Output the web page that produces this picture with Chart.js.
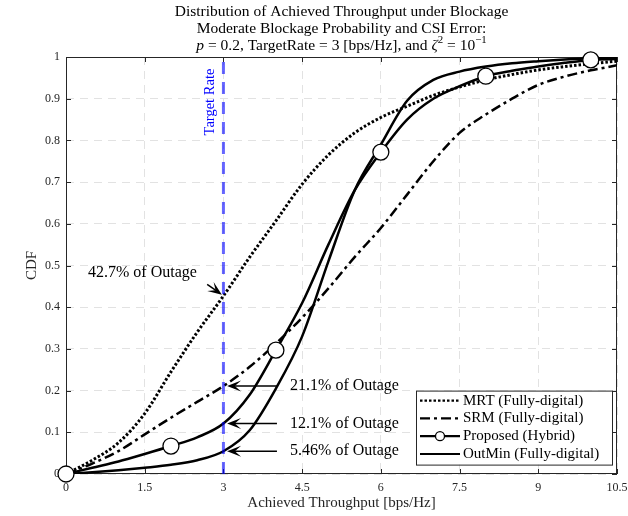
<!DOCTYPE html>
<html>
<head>
<meta charset="utf-8">
<script src="https://cdn.jsdelivr.net/npm/chart.js@4.4.1/dist/chart.umd.min.js"></script>
<style>
  html, body { margin: 0; padding: 0; background: #fff; }
  #wrap { width: 628px; height: 516px; }
</style>
</head>
<body>
<div id="wrap"><canvas id="cdfChart" width="628" height="516"></canvas></div>
<script>
// throughput grid (bps/Hz) and CDF values
const throughput = [0, 0.5, 1, 1.5, 2, 2.5, 3, 3.5, 4, 4.5, 5, 5.5, 6, 6.5, 7, 7.5, 8, 8.5, 9, 9.5, 10, 10.5];
const cdfMRT = [0, 0.033, 0.075, 0.145, 0.245, 0.34, 0.427, 0.52, 0.607, 0.695, 0.765, 0.818, 0.855, 0.882, 0.908, 0.928, 0.945, 0.958, 0.969, 0.977, 0.984, 0.99];
const cdfSRM = [0, 0.025, 0.055, 0.095, 0.135, 0.173, 0.211, 0.257, 0.313, 0.375, 0.445, 0.52, 0.59, 0.67, 0.75, 0.818, 0.862, 0.9, 0.933, 0.953, 0.968, 0.98];
const cdfProposed = [0, 0.015, 0.03, 0.048, 0.067, 0.088, 0.121, 0.19, 0.297, 0.41, 0.55, 0.68, 0.772, 0.85, 0.9, 0.93, 0.954, 0.967, 0.977, 0.986, 0.993, 0.995];
const cdfOutMin = [0, 0.004, 0.009, 0.015, 0.022, 0.033, 0.0546, 0.105, 0.205, 0.33, 0.51, 0.68, 0.79, 0.895, 0.945, 0.965, 0.977, 0.985, 0.99, 0.994, 0.997, 0.998];
const markerAt = [0, 2, 4, 6, 8, 10];
const targetRate = 3;
const xTicks = [0, 1.5, 3, 4.5, 6, 7.5, 9, 10.5];
const yTicks = [0, 0.1, 0.2, 0.3, 0.4, 0.5, 0.6, 0.7, 0.8, 0.9, 1];
const seriesNames = ["MRT (Fully-digital)", "SRM (Fully-digital)", "Proposed (Hybrid)", "OutMin (Fully-digital)"];
const outageMRT = 0.427, outageSRM = 0.211, outageProposed = 0.121, outageOutMin = 0.0546;

const SERIF = "'Liberation Serif', 'DejaVu Serif', serif";
const pts = (ys) => throughput.map((x, i) => ({ x: x, y: ys[i] }));

function drawRuns(ctx, runs, cx, y, size) {
  const fontOf = (r) => (r.it ? "italic " : "") + (r.sup ? size * 0.7 : size) + "px " + SERIF;
  let total = 0;
  runs.forEach((r) => { ctx.font = fontOf(r); total += ctx.measureText(r.t).width; });
  let x = cx - total / 2;
  ctx.textAlign = "left";
  ctx.textBaseline = "middle";
  runs.forEach((r) => {
    ctx.font = fontOf(r);
    ctx.fillText(r.t, x, r.sup ? y - size * 0.35 : y);
    x += ctx.measureText(r.t).width;
  });
}

function drawArrow(ctx, x1, y1, x2, y2) {
  const a = Math.atan2(y2 - y1, x2 - x1);
  const len = 14, half = 5.5;
  ctx.beginPath();
  ctx.moveTo(x1, y1);
  ctx.lineTo(x2 - Math.cos(a) * 6, y2 - Math.sin(a) * 6);
  ctx.stroke();
  const bx = x2 - Math.cos(a) * len, by = y2 - Math.sin(a) * len;
  const nx = x2 - Math.cos(a) * len * 0.55, ny = y2 - Math.sin(a) * len * 0.55;
  ctx.beginPath();
  ctx.moveTo(x2, y2);
  ctx.lineTo(bx + Math.sin(a) * half, by - Math.cos(a) * half);
  ctx.lineTo(nx, ny);
  ctx.lineTo(bx - Math.sin(a) * half, by + Math.cos(a) * half);
  ctx.closePath();
  ctx.fill();
}

const matlabLook = {
  id: "matlabLook",
  beforeDatasetsDraw(chart) {
    const { ctx, chartArea: ca, scales } = chart;
    ctx.save();
    ctx.strokeStyle = "#262626";
    ctx.lineWidth = 1;
    ctx.strokeRect(ca.left + 0.5, ca.top + 0.5, ca.right - ca.left - 1, ca.bottom - ca.top - 1);
    ctx.beginPath();
    xTicks.forEach((v) => {
      const px = Math.round(scales.x.getPixelForValue(v)) + 0.5;
      ctx.moveTo(px, ca.bottom); ctx.lineTo(px, ca.bottom - 5);
      ctx.moveTo(px, ca.top); ctx.lineTo(px, ca.top + 5);
    });
    yTicks.forEach((v) => {
      const py = Math.round(scales.y.getPixelForValue(v)) + 0.5;
      ctx.moveTo(ca.left, py); ctx.lineTo(ca.left + 5, py);
      ctx.moveTo(ca.right, py); ctx.lineTo(ca.right - 5, py);
    });
    ctx.stroke();
    ctx.restore();
  },
  afterDraw(chart) {
    const { ctx, chartArea: ca, scales } = chart;
    const X = (v) => scales.x.getPixelForValue(v);
    const Y = (v) => scales.y.getPixelForValue(v);
    const cx = (ca.left + ca.right) / 2;
    ctx.save();
    ctx.fillStyle = "#000";
    ctx.textAlign = "center";
    ctx.textBaseline = "middle";
    ctx.font = "15.5px " + SERIF;
    ctx.fillText("Distribution of Achieved Throughput under Blockage", cx, 12);
    ctx.fillText("Moderate Blockage Probability and CSI Error:", cx, 29);
    drawRuns(ctx, [
      { t: "p", it: 1 }, { t: " = 0.2, TargetRate = 3 [bps/Hz], and " },
      { t: "ζ", it: 1 }, { t: "2", sup: 1 }, { t: " = 10" }, { t: "−1", sup: 1 }
    ], cx, 46, 15.5);

    // axis titles
    ctx.fillStyle = "#262626";
    ctx.textAlign = "center";
    ctx.font = "15px " + SERIF;
    ctx.fillText("Achieved Throughput [bps/Hz]", cx, 503);
    ctx.save();
    ctx.translate(32, (ca.top + ca.bottom) / 2);
    ctx.rotate(-Math.PI / 2);
    ctx.fillText("CDF", 0, 0);
    ctx.restore();

    // target rate label
    ctx.save();
    ctx.fillStyle = "#0000ff";
    ctx.font = "14.5px " + SERIF;
    ctx.translate(X(targetRate) - 13, Y(0.892));
    ctx.rotate(-Math.PI / 2);
    ctx.fillText("Target Rate", 0, 0);
    ctx.restore();

    // outage annotations
    ctx.fillStyle = "#000";
    ctx.strokeStyle = "#000";
    ctx.lineWidth = 1.5;
    ctx.font = "16px " + SERIF;
    ctx.textAlign = "left";
    ctx.fillText("42.7% of Outage", X(0.42), Y(0.482));
    drawArrow(ctx, X(2.69), Y(0.455), X(2.97), Y(outageMRT + 0.003));
    [[outageSRM, "21.1% of Outage"], [outageProposed, "12.1% of Outage"], [outageOutMin, "5.46% of Outage"]]
      .forEach(([v, label]) => {
        drawArrow(ctx, X(4.02), Y(v), X(3.07), Y(v));
        ctx.fillText(label, X(4.27), Y(v));
      });

    // legend
    const lx = ca.right - 201, ly = Y(0.2), lw = 196, lh = 74;
    ctx.fillStyle = "#fff";
    ctx.fillRect(lx, ly, lw, lh);
    ctx.strokeStyle = "#262626";
    ctx.lineWidth = 1;
    ctx.strokeRect(lx + 0.5, ly + 0.5, lw, lh);
    const dashes = [[2.5, 2], [10, 4, 3, 4], [], []];
    ctx.font = "15px " + SERIF;
    seriesNames.forEach((name, i) => {
      const yy = ly + 10 + i * 17.8;
      ctx.strokeStyle = "#000";
      ctx.lineWidth = 2.2;
      ctx.setLineDash(dashes[i]);
      ctx.beginPath();
      ctx.moveTo(lx + 4, yy); ctx.lineTo(lx + 44, yy);
      ctx.stroke();
      ctx.setLineDash([]);
      if (i === 2) {
        ctx.beginPath();
        ctx.arc(lx + 24, yy, 4.5, 0, Math.PI * 2);
        ctx.fillStyle = "#fff";
        ctx.fill();
        ctx.lineWidth = 1.3;
        ctx.stroke();
      }
      ctx.fillStyle = "#000";
      ctx.fillText(name, lx + 47, yy);
    });
    ctx.restore();
  }
};

const tickFont = { family: SERIF, size: 12 };
new Chart(document.getElementById("cdfChart"), {
  type: "line",
  data: {
    datasets: [
      {
        label: "Target Rate",
        data: [{ x: targetRate, y: 0 }, { x: targetRate, y: 1 }],
        borderColor: "rgba(0,0,255,0.6)",
        borderWidth: 3,
        borderDash: [12, 8],
        pointRadius: 0
      },
      {
        label: seriesNames[2],
        data: pts(cdfProposed),
        borderColor: "#000",
        borderWidth: 2.5,
        cubicInterpolationMode: "monotone",
        pointRadius: throughput.map((x) => (markerAt.includes(x) ? 8 : 0)),
        pointBackgroundColor: "#fff",
        pointBorderColor: "#000",
        pointBorderWidth: 1.3,
        clip: false
      },
      {
        label: seriesNames[3],
        data: pts(cdfOutMin),
        borderColor: "#000",
        borderWidth: 2.5,
        cubicInterpolationMode: "monotone",
        pointRadius: 0
      },
      {
        label: seriesNames[1],
        data: pts(cdfSRM),
        borderColor: "#000",
        borderWidth: 2.5,
        borderDash: [10, 4, 3, 4],
        cubicInterpolationMode: "monotone",
        pointRadius: 0
      },
      {
        label: seriesNames[0],
        data: pts(cdfMRT),
        borderColor: "#000",
        borderWidth: 3,
        borderDash: [2.5, 2],
        cubicInterpolationMode: "monotone",
        pointRadius: 0
      }
    ]
  },
  options: {
    responsive: false,
    animation: false,
    layout: { padding: { left: 0, right: 11, top: 57, bottom: 0 } },
    plugins: { legend: { display: false }, tooltip: { enabled: false }, title: { display: false } },
    scales: {
      x: {
        type: "linear",
        min: 0,
        max: 10.5,
        afterBuildTicks: (s) => { s.ticks = xTicks.map((v) => ({ value: v })); },
        afterFit: (s) => { s.height = 42; s.paddingLeft = 0; s.paddingRight = 0; },
        ticks: { font: tickFont, color: "#262626", padding: 7, maxRotation: 0, callback: (v) => String(v) },
        grid: { color: "#e2e2e2", drawTicks: false, lineWidth: 1 },
        border: { display: false, dash: [8, 6] }
      },
      y: {
        min: 0,
        max: 1,
        afterBuildTicks: (s) => { s.ticks = yTicks.map((v) => ({ value: v })); },
        afterFit: (s) => { s.width = 66; s.paddingTop = 0; s.paddingBottom = 0; },
        ticks: { font: tickFont, color: "#262626", padding: 6, callback: (v) => String(Math.round(v * 10) / 10) },
        grid: { color: "#e2e2e2", drawTicks: false, lineWidth: 1 },
        border: { display: false, dash: [8, 6] }
      }
    }
  },
  plugins: [matlabLook]
});
</script>
</body>
</html>
